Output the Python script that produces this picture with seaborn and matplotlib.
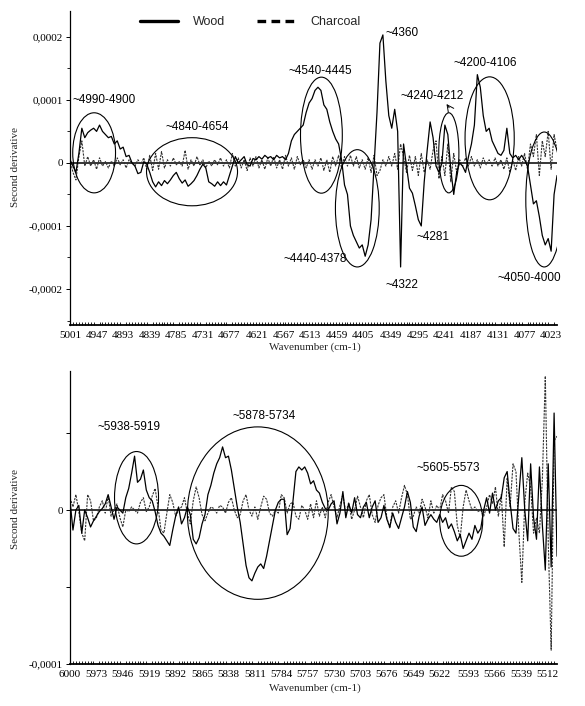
import numpy as np
import pandas as pd
import seaborn as sns
import matplotlib.pyplot as plt
from matplotlib.patches import Ellipse
from matplotlib.ticker import FixedLocator, FuncFormatter

SCALE = 1e-4  # second-derivative values below are in units of 1e-4

# --- data --------------------------------------------------------------
wn_top = np.arange(5001, 4010, -6)
wood_top = [
    0.05, -0.05, -0.15, 0.15, 0.55, 0.4, 0.48, 0.52, 0.55, 0.5,
    0.6, 0.5, 0.45, 0.4, 0.42, 0.3, 0.35, 0.22, 0.25, 0.1,
    0.12, 0.0, -0.05, -0.17, -0.15, 0.02, -0.02, -0.15, -0.3, -0.38,
    -0.3, -0.36, -0.28, -0.33, -0.27, -0.2, -0.15, -0.25, -0.32, -0.27,
    -0.37, -0.33, -0.28, -0.2, -0.1, -0.02, -0.08, -0.3, -0.33, -0.37,
    -0.3, -0.36, -0.3, -0.35, -0.2, -0.05, 0.1, 0.0, 0.05, 0.1,
    -0.03, -0.05, 0.07, 0.05, 0.1, 0.06, 0.12, 0.08, 0.1, 0.05,
    0.12, 0.08, 0.1, 0.05, 0.15, 0.35, 0.45, 0.5, 0.55, 0.6,
    0.8, 0.95, 1.02, 1.15, 1.2, 1.15, 0.92, 0.85, 0.65, 0.5,
    0.38, 0.3, 0.05, -0.35, -0.5, -1.0, -1.15, -1.25, -1.35, -1.3,
    -1.48, -1.3, -0.9, -0.05, 0.8, 1.9, 2.03, 1.3, 0.75, 0.55,
    0.85, 0.5, -1.65, 0.3, -0.05, -0.4, -0.48, -0.68, -0.9, -1.0,
    -0.3, 0.2, 0.65, 0.4, -0.05, -0.15, 0.0, 0.6, 0.45, -0.1,
    -0.5, -0.15, 0.0, -0.05, -0.15, 0.1, 0.3, 0.6, 1.4, 1.2,
    0.75, 0.5, 0.55, 0.35, 0.25, 0.15, 0.12, 0.2, 0.55, 0.15,
    0.08, 0.12, 0.05, 0.12, 0.05, -0.05, -0.35, -0.65, -0.6, -0.85,
    -1.15, -1.3, -1.2, -1.4, -0.5, -0.2,
]
charcoal_top = [
    0.05, -0.15, -0.27, 0.1, 0.35, -0.05, 0.1, -0.05, 0.05, -0.1,
    0.08, -0.05, 0.02, -0.08, 0.03, -0.05, 0.08, -0.03, 0.05, -0.08,
    0.05, 0.0, -0.05, 0.05, -0.02, 0.08, -0.1, 0.12, -0.12, 0.15,
    -0.1, 0.18, -0.08, 0.05, -0.05, 0.08, -0.03, 0.02, -0.05, 0.2,
    -0.1, 0.05, -0.05, 0.1, -0.03, 0.05, -0.08, 0.03, -0.05, 0.05,
    -0.03, 0.08, -0.05, 0.05, -0.08, 0.15, -0.05, 0.08, -0.08, 0.05,
    -0.12, 0.08, -0.05, 0.1, -0.08, 0.05, -0.1, 0.08, -0.05, 0.1,
    -0.08, 0.05, -0.1, 0.12, -0.05, 0.08, -0.1, 0.1, -0.03, 0.05,
    -0.08, 0.05, -0.1, 0.05, -0.05, 0.08, -0.12, 0.05, -0.15, 0.1,
    -0.05, 0.12, -0.08, 0.1, -0.05, 0.12, -0.05, 0.1, -0.08, 0.05,
    -0.1, 0.08, -0.15, 0.12, -0.2, -0.12, 0.05, -0.05, 0.1, -0.05,
    0.15, -0.1, 0.3, 0.1, -0.15, 0.12, -0.12, 0.1, -0.2, 0.15,
    -0.15, 0.05, -0.1, 0.2, 0.35, -0.25, 0.1, -0.2, 0.3, -0.3,
    0.15, -0.15, 0.05, -0.05, 0.08, -0.05, 0.1, -0.05, 0.05, -0.08,
    0.08, -0.03, 0.05, -0.05, 0.08, -0.05, 0.05, -0.1, 0.08, -0.15,
    0.05, -0.12, 0.1, -0.05, 0.15, -0.1, 0.3, 0.1, 0.45, -0.2,
    0.35, 0.1, 0.5, -0.1, 0.45, 0.2,
]

wn_bottom = np.arange(6000, 5501, -3)
wood_bottom = [
    0.06, -0.13, 0.0, 0.03, -0.15, 0.0, -0.05, -0.11, -0.07, -0.04,
    -0.01, 0.01, 0.04, 0.1, 0.02, -0.06, 0.02, 0.0, -0.02, 0.08,
    0.14, 0.24, 0.35, 0.18, 0.2, 0.26, 0.13, 0.08, 0.06, -0.01,
    -0.1, -0.15, -0.17, -0.2, -0.23, -0.13, -0.04, 0.02, -0.09, -0.05,
    0.02, -0.03, -0.19, -0.22, -0.18, -0.09, -0.03, 0.1, 0.16, 0.24,
    0.3, 0.34, 0.41, 0.34, 0.35, 0.26, 0.14, 0.02, -0.08, -0.22,
    -0.36, -0.44, -0.46, -0.41, -0.37, -0.35, -0.38, -0.3, -0.2, -0.1,
    0.0, 0.05, 0.07, 0.07, -0.16, -0.12, 0.06, 0.25, 0.28, 0.26,
    0.28, 0.24, 0.17, 0.19, 0.13, 0.11, 0.05, 0.01, 0.0, 0.04,
    0.06, -0.09, -0.02, 0.12, -0.05, 0.04, -0.02, 0.08, -0.03, -0.05,
    0.02, 0.05, -0.05, 0.02, 0.06, -0.08, -0.05, 0.03, -0.06, -0.11,
    -0.02, -0.08, -0.12, -0.05, 0.02, 0.12, 0.05, -0.11, -0.14, -0.04,
    0.02, -0.1, -0.06, -0.03, -0.06, -0.08, -0.03, -0.08, -0.05, -0.12,
    -0.09, -0.14, -0.2, -0.16, -0.25, -0.2, -0.15, -0.19, -0.1, -0.15,
    -0.12, 0.0, 0.08, -0.02, 0.11, 0.0, 0.06, 0.08, 0.21, 0.25,
    0.05, -0.12, -0.15, 0.1, 0.34, 0.0, -0.2, 0.3, -0.05, -0.19,
    0.28, -0.1, -0.39, 0.3, -0.37, 0.63, -0.3,
]
charcoal_bottom = [
    0.08, 0.02, 0.1, -0.01, -0.15, -0.2, 0.1, 0.06, -0.07, -0.05,
    0.02, 0.06, -0.02, 0.09, -0.04, 0.0, 0.04, -0.05, -0.11, 0.0,
    -0.01, 0.02, 0.0, -0.02, 0.05, 0.08, -0.01, 0.02, 0.09, 0.14,
    0.02, -0.13, -0.15, -0.02, 0.1, 0.05, -0.04, 0.0, 0.02, 0.08,
    -0.02, -0.09, 0.06, 0.15, 0.08, -0.03, -0.07, -0.02, 0.02, 0.01,
    -0.02, 0.03, 0.02, -0.02, 0.05, 0.08, 0.0, -0.05, -0.03, 0.06,
    0.1, 0.0, -0.04, 0.02, -0.06, 0.02, 0.09, 0.07, -0.02, -0.04,
    0.0, -0.02, 0.1, 0.08, -0.02, 0.04, 0.05, -0.04, -0.06, 0.03,
    0.0, -0.06, 0.04, -0.05, 0.06, -0.04, 0.02, -0.05, 0.05, 0.1,
    0.02, -0.05, 0.03, 0.1, -0.02, 0.05, -0.06, 0.0, 0.09, 0.02,
    -0.05, 0.06, 0.1, -0.03, -0.08, 0.03, 0.08, 0.1, -0.05, -0.12,
    0.02, 0.06, -0.02, 0.08, 0.16, 0.1, -0.06, -0.04, 0.02, -0.02,
    0.07, 0.02, -0.05, 0.06, -0.02, 0.03, 0.0, 0.1, 0.06, -0.02,
    0.15, 0.12, -0.1, -0.18, 0.02, 0.13, 0.06, 0.0, 0.02, -0.01,
    0.0, -0.04, 0.02, 0.1, 0.04, 0.15, -0.04, 0.1, -0.24, 0.21,
    0.02, 0.3, 0.25, -0.15, -0.47, 0.05, 0.24, 0.15, -0.15, -0.05,
    -0.15, 0.2, 0.87, -0.2, -0.91, 0.45, 0.48,
]

top_xticks = [5001, 4947, 4893, 4839, 4785, 4731, 4677, 4621, 4567, 4513,
              4459, 4405, 4349, 4295, 4241, 4187, 4131, 4077, 4023]
bottom_xticks = [6000, 5973, 5946, 5919, 5892, 5865, 5838, 5811, 5784, 5757,
                 5730, 5703, 5676, 5649, 5622, 5593, 5566, 5539, 5512]

# annotation layout: (wavenumber, value in 1e-4, text)
top_labels = [
    (4996, 1.0, "~4990-4900"), (4807, 0.57, "~4840-4654"),
    (4557, 1.46, "~4540-4445"), (4360, 2.06, "~4360"),
    (4330, 1.06, "~4240-4212"), (4222, 1.59, "~4200-4106"),
    (4567, -1.52, "~4440-4378"), (4360, -1.94, "~4322"),
    (4297, -1.17, "~4281"), (4133, -1.83, "~4050-4000"),
]
# ellipses: (centre wavenumber, centre value, width cm-1, height)
top_ellipses = [
    (4952, 0.16, 87, 1.27), (4753, -0.14, 185, 1.08),
    (4490, 0.44, 85, 1.84), (4417, -0.72, 89, 1.86),
    (4231, 0.16, 41, 1.27), (4148, 0.39, 100, 1.95),
    (4037, -0.58, 75, 2.14),
]
bottom_labels = [
    (5972, 0.54, "~5938-5919"), (5834, 0.61, "~5878-5734"),
    (5646, 0.27, "~5605-5573"),
]
bottom_ellipses = [
    (5932, 0.08, 45, 0.6), (5808, -0.02, 144, 1.12), (5600, -0.07, 44, 0.46),
]

assert len(wood_top) == len(charcoal_top) == len(wn_top)
assert len(wood_bottom) == len(charcoal_bottom) == len(wn_bottom)

sns.set_theme(style='white')
SERIF = ['Liberation Serif', 'DejaVu Serif']
SANS = ['Liberation Sans', 'DejaVu Sans']
plt.rcParams['font.family'] = SERIF


def to_frame(wn, wood, charcoal):
    return pd.DataFrame({
        'wavenumber': np.concatenate([wn, wn]),
        'value': np.array(list(wood) + list(charcoal)) * SCALE,
        'sample': ['Wood'] * len(wn) + ['Charcoal'] * len(wn),
    })


def comma_fmt(v, pos):
    if abs(v) < 1e-12:
        return '0'
    return f"{v:.4f}".replace('.', ',')


def draw_panel(ax, df, xticks, xlim, ylim, yticks, ylabels_at, minor_step):
    wood = df[df['sample'] == 'Wood']
    char = df[df['sample'] == 'Charcoal']
    sns.lineplot(data=char, x='wavenumber', y='value', ax=ax, color='#333333',
                 linewidth=0.8, linestyle=(0, (2, 1)), sort=False,
                 estimator=None, label='Charcoal')
    sns.lineplot(data=wood, x='wavenumber', y='value', ax=ax, color='black',
                 linewidth=0.9, sort=False, estimator=None, label='Wood')
    ax.axhline(0, color='black', lw=1.1, zorder=1)

    ax.set_xlim(*xlim)
    ax.set_ylim(*ylim)
    ax.xaxis.set_major_locator(FixedLocator(xticks))
    ax.xaxis.set_minor_locator(FixedLocator(np.arange(xlim[0], xlim[1], -minor_step)))
    ax.yaxis.set_major_locator(FixedLocator(yticks))
    ax.yaxis.set_major_formatter(
        FuncFormatter(lambda v, p: comma_fmt(v, p) if any(abs(v - t) < 1e-9 for t in ylabels_at) else ''))
    ax.yaxis.set_minor_locator(FixedLocator(np.arange(-0.00025, 0.00026, 0.0001)))

    for s in ['top', 'right']:
        ax.spines[s].set_visible(False)
    for s in ['left', 'bottom']:
        ax.spines[s].set_color('black')
        ax.spines[s].set_linewidth(0.9)
    ax.spines['bottom'].set_linewidth(1.3)

    ax.tick_params(axis='x', which='major', direction='in', length=3, width=0.7,
                   pad=4, labelsize=8, colors='black')
    ax.tick_params(axis='x', which='minor', direction='in', length=2.2, width=0.6,
                   colors='black', bottom=True)
    ax.tick_params(axis='y', which='major', direction='out', length=3, width=0.7,
                   pad=2, labelsize=8, colors='black', left=True)
    ax.tick_params(axis='y', which='minor', direction='out', length=2, width=0.6,
                   colors='black', left=True)
    for lab in ax.get_xticklabels() + ax.get_yticklabels():
        lab.set_family(SERIF)

    ax.set_xlabel('Wavenumber (cm-1)', fontsize=8, family=SERIF)
    ax.set_ylabel('Second derivative', fontsize=8, family=SERIF)
    ax.grid(False)


def annotate_panel(ax, labels, ellipses):
    for cx, cy, w, h in ellipses:
        ax.add_patch(Ellipse((cx, cy * SCALE), w, h * SCALE, fill=False,
                             edgecolor='black', linewidth=0.8, zorder=3))
    for x, y, s in labels:
        ax.text(x, y * SCALE, s, fontsize=8.5, family=SANS, ha='left',
                va='center', color='black')


fig = plt.figure(figsize=(5.85, 7.06), dpi=100)
ax_top = fig.add_axes([0.1197, 0.5397, 0.8325, 0.4448])
ax_bot = fig.add_axes([0.1197, 0.0595, 0.8325, 0.4150])

draw_panel(ax_top, to_frame(wn_top, wood_top, charcoal_top), top_xticks,
           (5001, 4011), (-0.000257, 0.000241),
           [-0.0002, -0.0001, 0, 0.0001, 0.0002],
           [-0.0002, -0.0001, 0, 0.0001, 0.0002], 6)
draw_panel(ax_bot, to_frame(wn_bottom, wood_bottom, charcoal_bottom), bottom_xticks,
           (6000, 5502), (-0.0001, 0.0000903),
           [-0.0001, -0.00005, 0, 0.00005],
           [-0.0001, 0], 3)
ax_bot.yaxis.set_minor_locator(FixedLocator([]))

ax_top.xaxis.set_label_coords(0.503, -0.057)
ax_bot.xaxis.set_label_coords(0.503, -0.065)
ax_top.yaxis.set_label_coords(-0.103, 0.503)
ax_bot.yaxis.set_label_coords(-0.103, 0.529)

annotate_panel(ax_top, top_labels, top_ellipses)
annotate_panel(ax_bot, bottom_labels, bottom_ellipses)
ax_top.annotate('', xy=(4239, 0.97 * SCALE), xytext=(4227, 0.84 * SCALE),
                arrowprops=dict(arrowstyle='->', lw=0.7, color='black'))

# legend: Wood first, thick handles as in the reference
handles, labels = ax_top.get_legend_handles_labels()
order = [labels.index('Wood'), labels.index('Charcoal')]
leg = ax_top.legend([handles[i] for i in order], [labels[i] for i in order],
                    loc='center left', bbox_to_anchor=(0.144, 0.965), ncol=2,
                    frameon=False, borderpad=0, borderaxespad=0,
                    handlelength=3.0, handletextpad=1.2, columnspacing=2.6,
                    prop={'family': SANS, 'size': 9})
wood_h, char_h = leg.get_lines()
wood_h.set_linewidth(2.4)
wood_h.set_linestyle('-')
char_h.set_linewidth(2.4)
char_h.set_color('black')
char_h.set_linestyle((0, (2.6, 1.6)))
if ax_bot.get_legend() is not None:
    ax_bot.get_legend().remove()

plt.savefig('out.png', dpi=100)
plt.close()
